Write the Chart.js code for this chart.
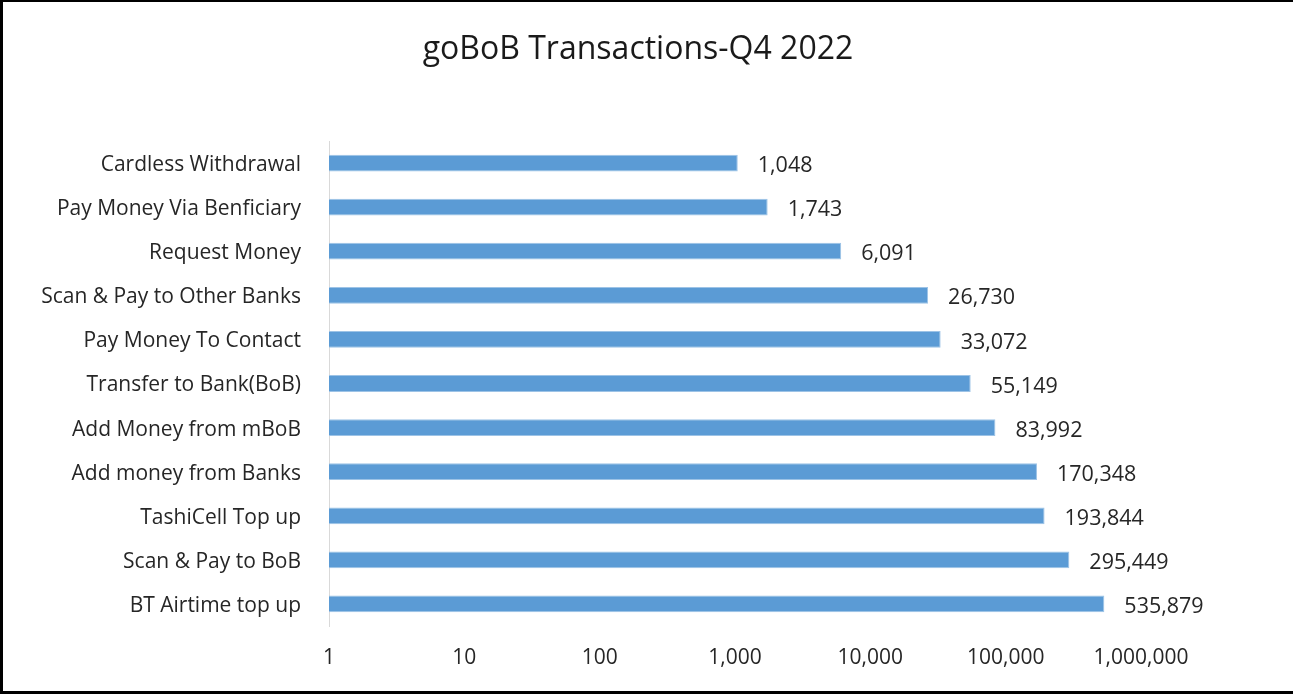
<!DOCTYPE html>
<html>
<head>
<meta charset="utf-8">
<script src="https://cdn.jsdelivr.net/npm/chart.js@4"></script>
<style>
  html, body { margin: 0; padding: 0; background: #fff; }
  #wrap {
    position: absolute; left: 0; top: 0;
    width: 1290px; height: 689px;
    border-left: 3px solid #000;
    border-top: 2px solid #000;
    border-bottom: 3px solid #000;
  }
  #chart { position: absolute; left: -3px; top: -2px; }
</style>
</head>
<body>
<div id="wrap">
  <canvas id="chart" width="1293" height="694"></canvas>
</div>
<script>
const categories = [
  'Cardless Withdrawal',
  'Pay Money Via Benficiary',
  'Request Money',
  'Scan & Pay to Other Banks',
  'Pay Money To Contact',
  'Transfer to Bank(BoB)',
  'Add Money from mBoB',
  'Add money from Banks',
  'TashiCell Top up',
  'Scan & Pay to BoB',
  'BT Airtime top up'
];
const transactions = [1048, 1743, 6091, 26730, 33072, 55149, 83992, 170348, 193844, 295449, 535879];
const xTicks = [1, 10, 100, 1000, 10000, 100000, 1000000];
const titleText = 'goBoB Transactions-Q4 2022';

const FONT = '"Open Sans", "Noto Sans", sans-serif';
const TEXT = '#262626';
const fmt = (v) => v.toLocaleString('en-US');

// title centred on the whole picture + value labels after each bar
const extras = {
  id: 'extras',
  afterDatasetsDraw(chart) {
    const ctx = chart.ctx;
    const meta = chart.getDatasetMeta(0);
    ctx.save();
    ctx.fillStyle = '#1a1a1a';
    ctx.font = '32px ' + FONT;
    ctx.textAlign = 'center';
    ctx.textBaseline = 'middle';
    ctx.fillText(titleText, 638, 50);

    ctx.font = '21.5px ' + FONT;
    ctx.fillStyle = TEXT;
    ctx.textAlign = 'left';
    meta.data.forEach((bar, i) => {
      ctx.fillText(fmt(transactions[i]), bar.x + 20, bar.y + 3);
    });
    ctx.restore();
  }
};

const ctx = document.getElementById('chart');
new Chart(ctx, {
  type: 'bar',
  data: {
    labels: categories,
    datasets: [{
      data: transactions,
      backgroundColor: '#5b9bd5',
      borderColor: '#9dc3e6',
      borderWidth: 1,
      borderSkipped: 'start',
      barPercentage: 0.38,
      categoryPercentage: 1
    }]
  },
  options: {
    indexAxis: 'y',
    responsive: false,
    animation: false,
    layout: { padding: { left: 0, right: 152, top: 141, bottom: 0 } },
    plugins: {
      legend: { display: false },
      tooltip: { enabled: false },
      title: { display: false }
    },
    scales: {
      x: {
        type: 'logarithmic',
        min: 1,
        max: 1000000,
        afterBuildTicks: (axis) => { axis.ticks = xTicks.map(v => ({ value: v })); },
        afterFit: (axis) => { axis.height = 68; },
        grid: { display: false, drawTicks: false },
        border: { display: false },
        ticks: {
          padding: 19,
          color: TEXT,
          font: { family: FONT, size: 21 },
          maxRotation: 0,
          autoSkip: false,
          callback: (v) => fmt(v)
        }
      },
      y: {
        afterFit: (axis) => { axis.width = 329; },
        grid: { display: false, drawTicks: false },
        border: { display: true, color: '#d9d9d9', width: 1 },
        ticks: {
          padding: 28,
          labelOffset: 2,
          color: TEXT,
          font: { family: FONT, size: 21 }
        }
      }
    }
  },
  plugins: [extras]
});
</script>
</body>
</html>
